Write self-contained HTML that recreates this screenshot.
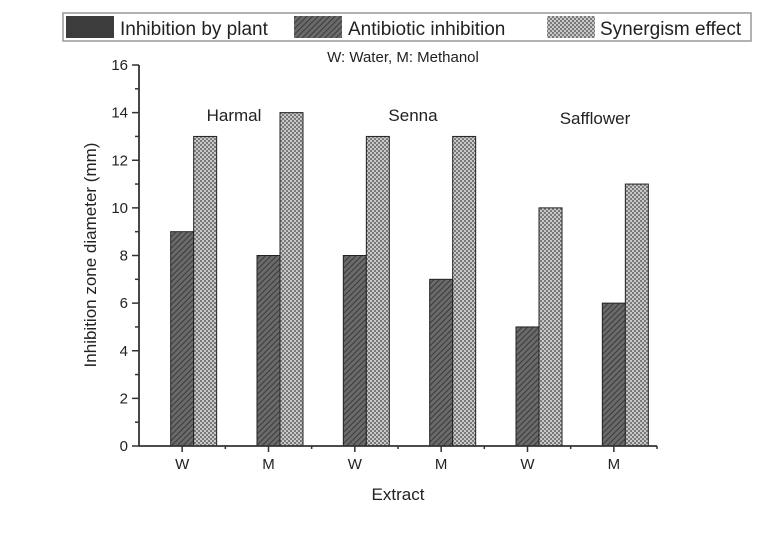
<!DOCTYPE html>
<html><head><meta charset="utf-8"><style>
body{margin:0;background:#fff}
svg text{font-family:"Liberation Sans",Arial,sans-serif;fill:#222}
</style></head><body>
<svg width="768" height="539" viewBox="0 0 768 539">
<defs>
<pattern id="hatch" width="4" height="4" patternUnits="userSpaceOnUse" patternTransform="rotate(45)">
<rect width="4" height="4" fill="#6a6a6a"/><line x1="0" y1="0" x2="0" y2="4" stroke="#3a3a3a" stroke-width="2"/></pattern>
<pattern id="check" width="4" height="4" patternUnits="userSpaceOnUse">
<rect width="4" height="4" fill="#c8c8c8"/><rect width="2" height="2" fill="#7a7a7a"/><rect x="2" y="2" width="2" height="2" fill="#7a7a7a"/></pattern>
</defs>
<g>
<rect x="63" y="13" width="688" height="28" fill="#fff" stroke="#999" stroke-width="1.5"/>
<rect x="66" y="16" width="48" height="22" fill="#3c3c3c"/>
<text x="120" y="35" font-size="19">Inhibition by plant</text>
<rect x="294" y="16" width="48" height="22" fill="url(#hatch)"/>
<text x="348" y="35" font-size="19">Antibiotic inhibition</text>
<rect x="547" y="16" width="48" height="22" fill="url(#check)"/>
<text x="600" y="35" font-size="19">Synergism effect</text>
</g>
<text x="403" y="62" font-size="15" text-anchor="middle">W: Water, M: Methanol</text>
<text x="234" y="121" font-size="17" text-anchor="middle">Harmal</text>
<text x="413" y="121" font-size="17" text-anchor="middle">Senna</text>
<text x="595" y="124" font-size="17" text-anchor="middle">Safflower</text>
<text transform="translate(96,255) rotate(-90)" font-size="17" text-anchor="middle">Inhibition zone diameter (mm)</text>
<text x="398" y="500" font-size="17" text-anchor="middle">Extract</text>
<g id="plot"></g>
</svg>
<script>
const categories=["W","M","W","M","W","M"];
const plantValues=[0,0,0,0,0,0];
const antibioticValues=[9,8,8,7,5,6];
const synergismValues=[13,14,13,13,10,11];
const yTicks=[0,2,4,6,8,10,12,14,16];
const X0=139,X1=657,Y0=446,Y16=65;
const slot=(X1-X0)/categories.length;
const y=v=>Y0-(v/16)*(Y0-Y16);
const xc=i=>X0+slot*(i+0.5);
const g=document.getElementById('plot');
const NS='http://www.w3.org/2000/svg';
function mk(t,a){const e=document.createElementNS(NS,t);for(const k in a)e.setAttribute(k,a[k]);g.appendChild(e);return e;}
const bw=23;
const series=[[plantValues,'#3c3c3c','plant'],[antibioticValues,'url(#hatch)','antibiotic'],[synergismValues,'url(#check)','synergism']];
categories.forEach((c,i)=>{
 series.forEach((s,j)=>{
  const v=s[0][i]; if(v<=0) return;
  const r=mk('rect',{x:xc(i)-1.5*bw+j*bw,y:y(v),width:bw,height:Y0-y(v),fill:s[1],stroke:'#222','stroke-width':1});
  
  
 });
 const t=mk('text',{x:xc(i),y:Y0+23,'font-size':15,'text-anchor':'middle'});t.textContent=c;
 
 
 mk('line',{x1:xc(i),x2:xc(i),y1:Y0,y2:Y0+6,stroke:'#333','stroke-width':1.5});
 mk('line',{x1:X0+slot*(i+1),x2:X0+slot*(i+1),y1:Y0,y2:Y0+3,stroke:'#333','stroke-width':1.5});
});
yTicks.forEach((v,k)=>{
 mk('line',{x1:X0-7,x2:X0,y1:y(v),y2:y(v),stroke:'#333','stroke-width':1.5});
 if(v<16) mk('line',{x1:X0-4,x2:X0,y1:y(v+1),y2:y(v+1),stroke:'#333','stroke-width':1.5});
 const t=mk('text',{x:X0-11,y:y(v)+5,'font-size':15,'text-anchor':'end'});t.textContent=v;
 
 
});
const ya=mk('line',{x1:X0,x2:X0,y1:Y16,y2:Y0,stroke:'#333','stroke-width':1.8});


const xa=mk('line',{x1:X0,x2:X1,y1:Y0,y2:Y0,stroke:'#333','stroke-width':1.8});


</script>
</body></html>
